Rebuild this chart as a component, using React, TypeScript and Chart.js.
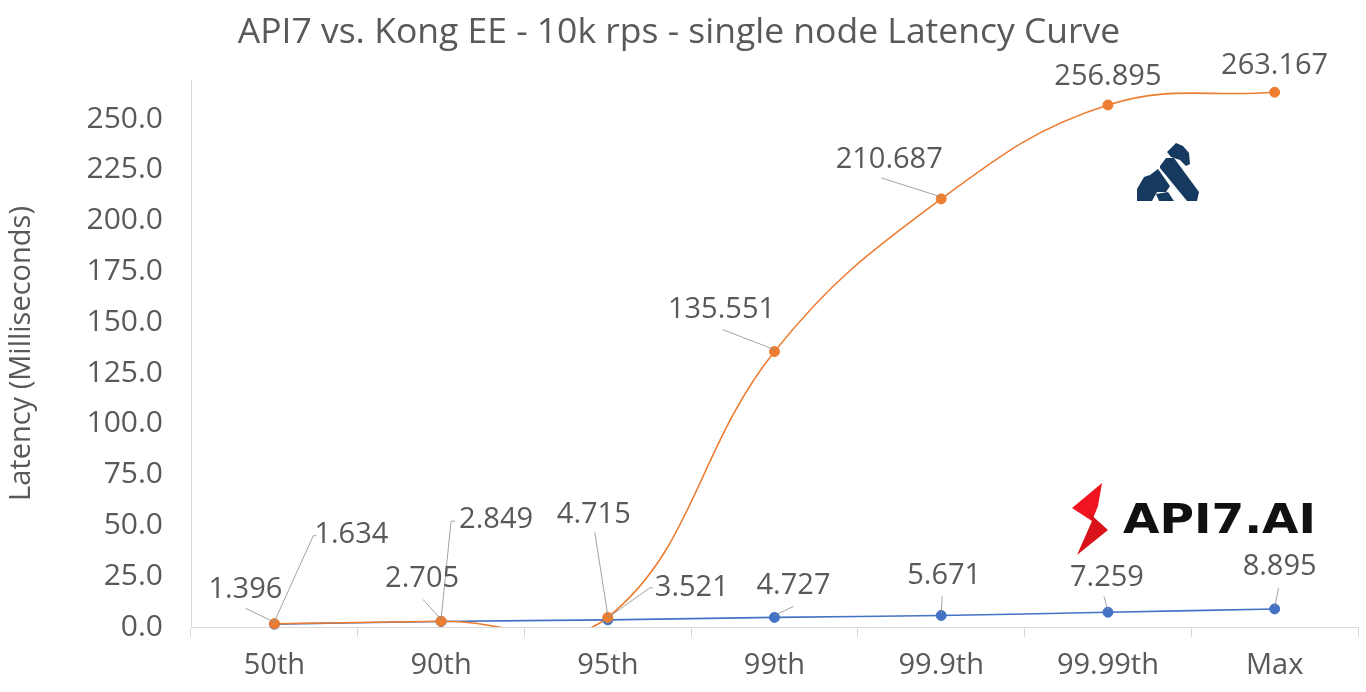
import React, { useEffect, useRef } from "react";
import { Chart, registerables } from "chart.js";

Chart.register(...registerables);

const categories = ["50th", "90th", "95th", "99th", "99.9th", "99.99th", "Max"];
const api7Values = [1.396, 2.705, 3.521, 4.727, 5.671, 7.259, 8.895];
const kongValues = [1.634, 2.849, 4.715, 135.551, 210.687, 256.895, 263.167];
const yTickValues = [0, 25, 50, 75, 100, 125, 150, 175, 200, 225, 250];

const FONT = "'Open Sans', sans-serif";
const TEXT = "#595959";
const ORANGE = "#ED7D31";
const BLUE = "#4472C4";

// label offsets (dx, dy of label centre from point), leader path start points or null
const kongLabelLayout = [
  { dx: 77, dy: -89, lead: [[42, -88], [39, -88]] },
  { dx: 55, dy: -101, lead: [[14, -100], [10, -100]] },
  { dx: -14, dy: -103, lead: [[-13, -85]] },
  { dx: -53, dy: -42, lead: [[-52, -22]] },
  { dx: -52, dy: -39, lead: [[-60, -21]] },
  { dx: 0, dy: -28, lead: null },
  { dx: 0, dy: -27, lead: null },
];
const api7LabelLayout = [
  { dx: -29, dy: -34, lead: [[-29, -16]] },
  { dx: -19, dy: -43, lead: [[-18, -22]] },
  { dx: 84, dy: -32, lead: [[45, -32], [42, -32]] },
  { dx: 19, dy: -32, lead: [[19, -11]] },
  { dx: 3, dy: -40, lead: [[1, -19]] },
  { dx: -1, dy: -35, lead: [[-4, -16]] },
  { dx: 5, dy: -42, lead: [[4, -21]] },
];

const labelPlugin = {
  id: "leaderLabels",
  afterDatasetsDraw(chart: any) {
    const ctx = chart.ctx;
    const layouts: any = { 0: kongLabelLayout, 1: api7LabelLayout };
    ctx.save();
    [0, 1].forEach((di) => {
      const meta = chart.getDatasetMeta(di + 2);
      const ds = chart.data.datasets[di + 2];
      meta.data.forEach((pt: any, i: number) => {
        const lay = layouts[di][i];
        const x = pt.x;
        const y = pt.y;
        if (lay.lead) {
          ctx.beginPath();
          ctx.strokeStyle = "#8c8c8c";
          ctx.lineWidth = 0.8;
          ctx.moveTo(x + lay.lead[0][0], y + lay.lead[0][1]);
          for (let k = 1; k < lay.lead.length; k++) {
            ctx.lineTo(x + lay.lead[k][0], y + lay.lead[k][1]);
          }
          ctx.lineTo(x, y - 2);
          ctx.stroke();
        }
        ctx.fillStyle = TEXT;
        ctx.font = `29px ${FONT}`;
        ctx.textAlign = "center";
        ctx.textBaseline = "middle";
        ctx.fillText(String(ds.data[i]), x + lay.dx, y + lay.dy);
      });
    });
    ctx.restore();
  },
};

const logoPlugin = {
  id: "logos",
  afterDraw(chart: any) {
    const ctx = chart.ctx;
    const ca = chart.chartArea;
    const ox = ca.left - 191;
    const oy = ca.top - 80;
    const poly = (pts: number[][], color: string) => {
      ctx.beginPath();
      ctx.moveTo(pts[0][0] + ox, pts[0][1] + oy);
      for (let i = 1; i < pts.length; i++) ctx.lineTo(pts[i][0] + ox, pts[i][1] + oy);
      ctx.closePath();
      ctx.fillStyle = color;
      ctx.fill();
    };
    ctx.save();
    // Kong gorilla
    const navy = "#163a5f";
    poly([[1167, 152], [1176, 143], [1183, 146], [1189, 153], [1190, 164], [1186, 166], [1180, 160], [1171, 157]], navy);
    poly([[1160, 166], [1166, 158], [1174, 158], [1199, 192], [1197, 201], [1187, 201], [1160, 168]], navy);
    poly([[1137, 189], [1144, 177], [1150, 175], [1158, 169], [1170, 186], [1166, 192], [1157, 192], [1152, 201], [1137, 201]], navy);
    poly([[1156, 194], [1168, 192], [1174, 201], [1159, 201]], navy);
    // API7 bolt
    poly([[1102, 483], [1072, 508], [1092, 521], [1098, 506]], "#f0141e");
    poly([[1088, 512], [1108, 530], [1077, 555], [1092, 521]], "#d81218");
    // API7.AI wordmark
    ctx.fillStyle = "#111111";
    ctx.font = "bold 41px 'DejaVu Sans', sans-serif";
    ctx.textBaseline = "alphabetic";
    ctx.textAlign = "left";
    const txt = "API7.AI";
    const w = ctx.measureText(txt).width;
    ctx.translate(1123 + ox, 533 + oy);
    ctx.scale(193 / w, 1);
    ctx.fillText(txt, 0, 0);
    ctx.restore();
  },
};

export default function App() {
  const ref = useRef<HTMLCanvasElement>(null);
  useEffect(() => {
    document.body.style.margin = "0";
    if (!ref.current) return;
    const chart = new Chart(ref.current, {
      type: "line",
      data: {
        labels: categories,
        datasets: [
          {
            label: "Kong EE",
            data: kongValues,
            borderColor: ORANGE,
            borderWidth: 1.6,
            pointRadius: 0,
            tension: 0.4,
            fill: false,
            order: 3,
          },
          {
            label: "API7",
            data: api7Values,
            borderColor: BLUE,
            borderWidth: 1.6,
            pointRadius: 0,
            tension: 0.4,
            fill: false,
            order: 4,
          },
          {
            label: "Kong EE points",
            data: kongValues,
            showLine: false,
            pointRadius: 5,
            pointBackgroundColor: ORANGE,
            pointBorderColor: ORANGE,
            clip: false as any,
            order: 1,
          },
          {
            label: "API7 points",
            data: api7Values,
            showLine: false,
            pointRadius: 5,
            pointBackgroundColor: BLUE,
            pointBorderColor: BLUE,
            clip: false as any,
            order: 2,
          },
        ],
      },
      options: {
        animation: false,
        responsive: true,
        maintainAspectRatio: false,
        elements: { line: { capBezierPoints: false } },
        layout: { padding: { left: 0, right: 8, top: 0, bottom: 0 } },
        plugins: {
          legend: { display: false },
          tooltip: { enabled: false },
          title: {
            display: true,
            text: "API7 vs. Kong EE - 10k rps - single node Latency Curve",
            color: TEXT,
            font: { family: FONT, size: 35.5, weight: "normal" },
            padding: { top: 11.7, bottom: 25.7 },
          },
        },
        scales: {
          x: {
            offset: true,
            grid: {
              offset: true,
              drawOnChartArea: false,
              drawTicks: true,
              tickLength: 10,
              color: "#d9d9d9",
            },
            border: { color: "#d9d9d9" },
            ticks: {
              color: TEXT,
              font: { family: FONT, size: 29 },
              padding: 11,
              maxRotation: 0,
            },
            afterFit: (s: any) => {
              s.height = 65;
            },
          },
          y: {
            min: 0,
            max: 269.2,
            grid: { drawOnChartArea: false, drawTicks: false, color: "#d9d9d9" },
            border: { color: "#d9d9d9" },
            afterBuildTicks: (s: any) => {
              s.ticks = yTickValues.map((v) => ({ value: v }));
            },
            ticks: {
              color: TEXT,
              font: { family: FONT, size: 30 },
              padding: 28,
              callback: (v: any) => Number(v).toFixed(1),
            },
            title: {
              display: true,
              text: "Latency (Milliseconds)",
              color: TEXT,
              font: { family: FONT, size: 29 },
              padding: { top: 4, bottom: 0 },
            },
            afterFit: (s: any) => {
              s.width = 191;
            },
          },
        },
      },
      plugins: [labelPlugin, logoPlugin],
    });
    return () => chart.destroy();
  }, []);
  return (
    <div style={{ width: 1366, height: 692, position: "relative", overflow: "hidden", background: "#fff" }}>
      <canvas ref={ref} />
    </div>
  );
}
